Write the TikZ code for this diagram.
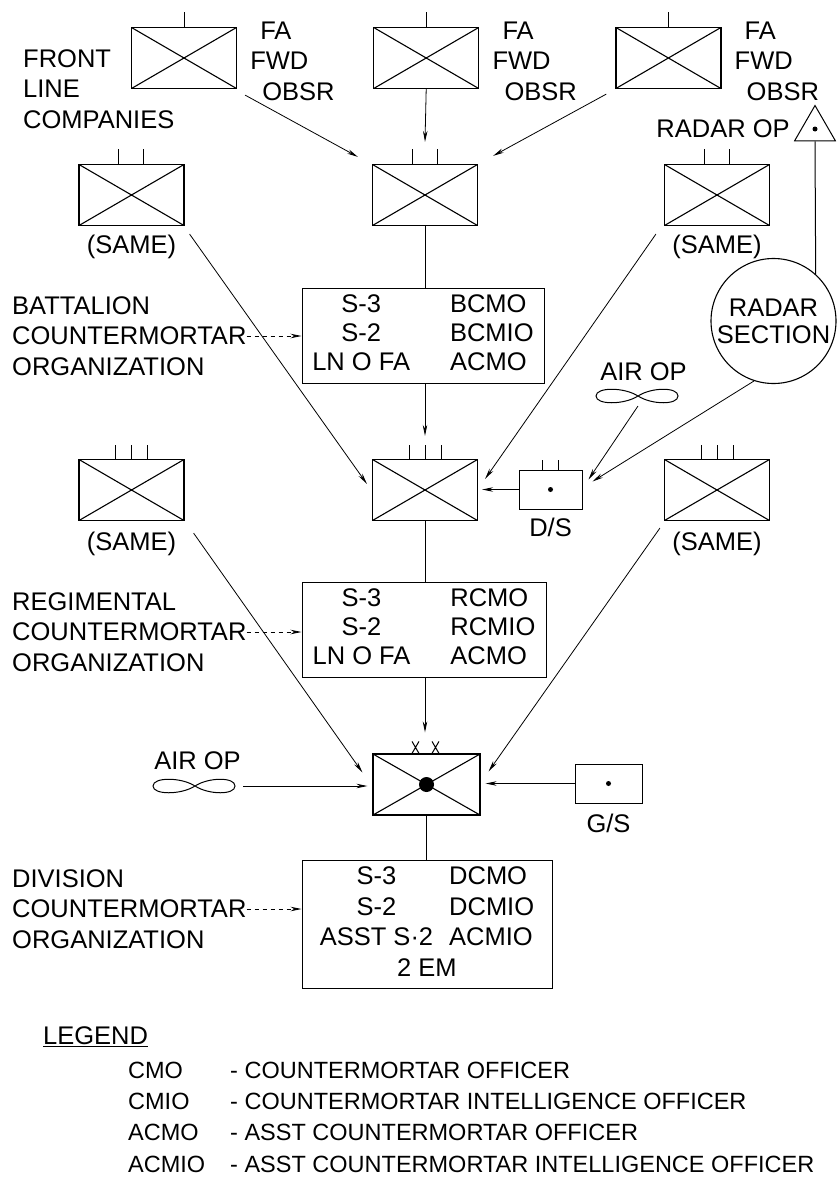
\documentclass[tikz,border=0pt]{standalone}
\usepackage{fontspec}
\setmainfont{Liberation Sans}
\usetikzlibrary{shapes.geometric, positioning, arrows.meta}

\begin{document}
\begin{tikzpicture} [ x=1pt, y=-1pt
                    , font=\fontsize{25.5}{30.5}\selectfont
                    , unitbox/.style={draw, line width=1.2pt, minimum width=105pt, minimum height=61pt, inner sep=0pt,
                                      path picture={\draw [line width=1.1pt]
                                        (path picture bounding box.north west) -- (path picture bounding box.south east)
                                        (path picture bounding box.south west) -- (path picture bounding box.north east);}}
                    , cmo/.style={draw, line width=1pt, inner sep=3pt, font=\fontsize{25.5}{29}\selectfont}
                    , lbl/.style={inner sep=0pt, align=left}
                    , supp/.style={draw, line width=1pt, minimum width=63pt, minimum height=39pt}
                    , link/.style={line width=0.8pt, -{Stealth[length=11pt, width=4.5pt]}}
                    , dashlink/.style={link, dash pattern=on 4pt off 4pt}
                    , tick/.style={line width=1pt}
                    , prop/.pic={\draw [line width=1pt] (0,0) .. controls (-14,-9) and (-42,-9) .. (-42,0)
                                 .. controls (-42,9) and (-14,9) .. (0,0)
                                 .. controls (14,-9) and (40,-9) .. (40,0)
                                 .. controls (40,9) and (14,9) .. (0,0);}
                    ]

  \useasboundingbox (0,0) rectangle (837,1181);

  % --- Front line companies --------------------------------------------------
  \node [ unitbox
        ]
        (FA1) at (184,58) {};

  \node [ unitbox
        , right=136pt of FA1
        ]
        (FA2) {};

  \node [ unitbox
        , right=136pt of FA2
        ]
        (FA3) {};

  \foreach \n in {FA1,FA2,FA3}
  {
    \node [lbl, right=13pt of \n, yshift=-3pt] (\n obs) {\hspace*{10pt}FA\\FWD\\\hspace*{12pt}OBSR};
    \draw [tick] (\n.north) -- ++(0,-15);
  }

  \node [ lbl
        , anchor=west
        ]
        (FLC) at (23,89) {FRONT\\LINE\\COMPANIES};
  % ---------------------------------------------------------------------------

  % --- Battalion -------------------------------------------------------------
  \node [ unitbox
        ]
        (Bn) at (425,195) {};

  \node [ unitbox
        ]
        (BnL) at (131.5,195) {};

  \node [ unitbox
        ]
        (BnR) at (717,195) {};

  \foreach \n in {BnL,Bn,BnR}
    \draw [tick] ([shift={(-13,0)}]\n.north) -- ++(0,-15)
                 ([shift={(12,0)}]\n.north) -- ++(0,-15);

  \node [ lbl
        , below=9pt of BnL
        ]
        (BnLsame) {(SAME)};

  \node [ lbl
        , below=9pt of BnR
        ]
        (BnRsame) {(SAME)};

  \node [ cmo
        , minimum width=242pt
        , minimum height=95pt
        ]
        (BnCMO) at (423,335.5) {\begin{tabular}{@{}c@{\hspace{40pt}}l@{}}
                                S-3 & BCMO\\
                                S-2 & BCMIO\\
                                LN O FA & ACMO
                                \end{tabular}};

  \node [ lbl
        , anchor=west
        ]
        (BnLbl) at (12,336) {BATTALION\\COUNTERMORTAR\\ORGANIZATION};
  % ---------------------------------------------------------------------------

  % --- Radar -----------------------------------------------------------------
  \node [ draw
        , regular polygon
        , regular polygon sides=3
        , minimum size=47pt
        , inner sep=0pt
        , line width=1pt
        ]
        (ROP) at (815,129) {};
  \fill (ROP.center) circle (2.5pt);

  \node [ lbl
        , left=11pt of ROP
        ]
        (ROPlbl) {RADAR OP};

  \node [ draw
        , circle
        , line width=1.1pt
        , minimum size=125pt
        , inner sep=0pt
        , align=center
        , font=\fontsize{25.5}{27}\selectfont
        ]
        (Radar) at (773.5,321) {RADAR\\SECTION};
  % ---------------------------------------------------------------------------

  % --- Regiment --------------------------------------------------------------
  \node [ unitbox
        ]
        (Rgt) at (425,490) {};

  \node [ unitbox
        ]
        (RgtL) at (131.5,490) {};

  \node [ unitbox
        ]
        (RgtR) at (717,490) {};

  \foreach \n in {RgtL,Rgt,RgtR}
    \foreach \dx in {-16,0,16}
      \draw [tick] ([shift={(\dx,0)}]\n.north) -- ++(0,-14);

  \node [ lbl
        , below=11pt of RgtL
        ]
        (RgtLsame) {(SAME)};

  \node [ lbl
        , below=11pt of RgtR
        ]
        (RgtRsame) {(SAME)};

  \node [ supp
        ]
        (DS) at (550.5,489.5) {};
  \fill (DS.center) circle (2.5pt);
  \draw [tick] ([shift={(-8,0)}]DS.north) -- ++(0,-10)
               ([shift={(8,0)}]DS.north) -- ++(0,-10);

  \node [ lbl
        , below=8pt of DS
        ]
        (DSlbl) {D/S};

  \node [ lbl
        ]
        (AirA) at (643.5,372) {AIR OP};
  \coordinate (AirAp) at (638,396);
  \pic at (AirAp) {prop};

  \node [ cmo
        , minimum width=244pt
        , minimum height=95pt
        ]
        (RgtCMO) at (424,630) {\begin{tabular}{@{}c@{\hspace{40pt}}l@{}}
                               S-3 & RCMO\\
                               S-2 & RCMIO\\
                               LN O FA & ACMO
                               \end{tabular}};

  \node [ lbl
        , anchor=west
        ]
        (RgtLbl) at (12,632) {REGIMENTAL\\COUNTERMORTAR\\ORGANIZATION};
  % ---------------------------------------------------------------------------

  % --- Division --------------------------------------------------------------
  \node [ unitbox
        , minimum width=107pt
        ]
        (Div) at (426.5,784.5) {};
  \fill (Div.center) circle (7.5pt);
  \foreach \dx in {-11,9}
    \draw [tick] ([shift={(\dx-3.5,-12)}]Div.north) -- ++(7,12)
                 ([shift={(\dx+3.5,-12)}]Div.north) -- ++(-7,12);

  \node [ supp
        , minimum width=67pt
        ]
        (GS) at (608.5,783.5) {};
  \fill (GS.center) circle (2.5pt);

  \node [ lbl
        , below=10pt of GS
        ]
        (GSlbl) {G/S};

  \node [ lbl
        ]
        (AirB) at (197.5,761) {AIR OP};
  \coordinate (AirBp) at (195,786);
  \pic at (AirBp) {prop};

  \node [ cmo
        , minimum width=250pt
        , minimum height=125pt
        , font=\fontsize{25.5}{30.5}\selectfont
        ]
        (DivCMO) at (427,924.5) {\begin{tabular}{@{}c@{\hspace{16pt}}l@{}}
                                 S-3 & DCMO\\
                                 S-2 & DCMIO\\
                                 ASST S·2 & ACMIO\\
                                 \multicolumn{2}{c}{2 EM}
                                 \end{tabular}};

  \node [ lbl
        , anchor=west
        ]
        (DivLbl) at (12,909) {DIVISION\\COUNTERMORTAR\\ORGANIZATION};
  % ---------------------------------------------------------------------------

  % --- Connectors ------------------------------------------------------------
  \draw [link] ([shift={(8,6)}]FA1.south east) -- ([shift={(-14,-7)}]Bn.north west);
  \draw [link] (FA2.south) -- ([shift={(0,-22)}]Bn.north);
  \draw [link] ([shift={(-9,5)}]FA3.south west) -- ([shift={(15,-8)}]Bn.north east);

  \draw [line width=1pt] (Bn.south) -- (Bn.south |- BnCMO.north);
  \draw [dashlink] (BnLbl.east) -- (BnLbl.east -| BnCMO.west);
  \draw [link] (Bn.south |- BnCMO.south) -- ([shift={(0,-23)}]Rgt.north);
  \draw [link] ([shift={(5,8)}]BnL.south east) -- ([shift={(-5,25)}]Rgt.north west);
  \draw [link] ([shift={(-8,8)}]BnR.south west) -- ([shift={(7,20)}]Rgt.north east);

  \draw [line width=1pt] (ROP.south) -- (Radar.48);
  \draw [link] (Radar.-108) -- ([shift={(10,12)}]DS.north east);
  \draw [link] ([shift={(0,10)}]AirAp) -- ([shift={(6,10)}]DS.north east);
  \draw [link] (DS.west) -- ([xshift=4pt]DS.west -| Rgt.east);

  \draw [line width=1pt] (Rgt.south) -- (Rgt.south |- RgtCMO.north);
  \draw [dashlink] (RgtLbl.east) -- (RgtLbl.east -| RgtCMO.west);
  \draw [link] (Rgt.south |- RgtCMO.south) -- ([shift={(0,-21)}]Rgt.south |- Div.north);
  \draw [link] ([shift={(9,12)}]RgtL.south east) -- ([shift={(-10,19)}]Div.north west);
  \draw [link] ([shift={(-4,7)}]RgtR.south west) -- ([shift={(8,18)}]Div.north east);

  \draw [link] ([xshift=48pt]AirBp) -- ([xshift=-5pt]AirBp -| Div.west);
  \draw [link] (GS.west) -- ([xshift=5pt]GS.west -| Div.east);

  \draw [line width=1pt] (Div.south) -- (Div.south |- DivCMO.north);
  \draw [dashlink] (DivLbl.east) -- (DivLbl.east -| DivCMO.west);
  % ---------------------------------------------------------------------------

  % --- Legend ----------------------------------------------------------------
  \node [ lbl
        , anchor=west
        ]
        (Leg) at (43,1037) {\underline{LEGEND}};

  \node [ lbl
        , anchor=west
        , font=\fontsize{23.5}{31.3}\selectfont
        ]
        (LegTab) at (128,1119) {\begin{tabular}{@{}l@{\hspace{25pt}}l@{}}
                                CMO & - COUNTERMORTAR OFFICER\\
                                CMIO & - COUNTERMORTAR INTELLIGENCE OFFICER\\
                                ACMO & - ASST COUNTERMORTAR OFFICER\\
                                ACMIO & - ASST COUNTERMORTAR INTELLIGENCE OFFICER
                                \end{tabular}};
  % ---------------------------------------------------------------------------
\end{tikzpicture}
\end{document}
